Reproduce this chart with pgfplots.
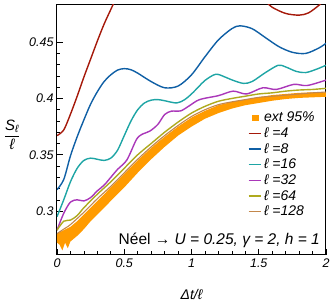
\documentclass[border=0pt]{standalone}
\usepackage{amsmath}
\usepackage{fontspec}
\setmainfont{Liberation Sans}
\usepackage{pgfplots}
\pgfplotsset{compat=1.18}
\definecolor{cfour}{RGB}{165,25,10}
\definecolor{ceight}{RGB}{15,95,165}
\definecolor{csixteen}{RGB}{30,165,165}
\definecolor{cthirtytwo}{RGB}{170,55,185}
\definecolor{csixtyfour}{RGB}{175,170,30}
\definecolor{conetwentyeight}{RGB}{195,135,75}
\definecolor{cband}{RGB}{255,155,0}
\begin{document}
\begin{tikzpicture}
\begin{axis}[
  scale only axis,
  width=269pt, height=250pt,
  xmin=0, xmax=2, ymin=0.261, ymax=0.483,
  xtick={0,0.5,1,1.5,2}, xticklabels={0,0.5,1,1.5,2},
  ytick={0.3,0.35,0.4,0.45}, yticklabels={0.3,0.35,0.4,0.45},
  minor x tick num=4, minor y tick num=4,
  tick pos=left, tick align=inside,
  major tick length=6pt, minor tick length=3.5pt,
  every tick/.style={black, line width=0.6pt},
  axis line style={line width=1pt},
  /pgf/number format/assume math mode=true,
  tick label style={font=\fontsize{12.5}{14}\selectfont\itshape},
  xlabel={\itshape Δt/ℓ},
  xlabel style={font=\fontsize{14}{16}\selectfont, at={(axis description cs:0.5,-0.156)}, anchor=center},
  ylabel={$\dfrac{\text{\itshape S}_{\text{\itshape ℓ}}}{\text{\itshape ℓ}}$},
  ylabel style={font=\fontsize{15}{17}\selectfont, rotate=-90, at={(axis description cs:-0.167,0.48)}, anchor=center},
  legend style={draw=none, fill=none, at={(axis description cs:0.705,0.585)}, anchor=north west,
    font=\fontsize{14}{16}\selectfont\itshape, row sep=0.4pt, inner sep=1pt},
  legend cell align=left,
  legend image code/.code={\draw[#1, line width=1.4pt] (0cm,0cm) -- (0.45cm,0cm);},
]
\addlegendimage{legend image code/.code={\fill[cband] (0.13cm,-0.1cm) rectangle (0.33cm,0.1cm);}}
\addlegendentry{ext 95\%}
% ext 95% band: lower bound left to right, then upper bound right to left
\addplot[fill=cband, draw=none, forget plot] coordinates {
(0,0.272)(0.02,0.270)(0.04,0.265)(0.06,0.272)(0.08,0.267)(0.1,0.273)(0.12,0.275)(0.15,0.278)(0.2,0.284)(0.25,0.291)(0.3,0.297)(0.35,0.303)(0.4,0.309)(0.45,0.315)(0.5,0.321)(0.6,0.334)(0.7,0.346)(0.8,0.357)(0.9,0.367)(1.0,0.375)(1.1,0.382)(1.2,0.387)(1.3,0.391)(1.4,0.394)(1.5,0.396)(1.6,0.398)(1.7,0.3995)(1.8,0.4005)(1.9,0.401)(2.0,0.4015)
(2.0,0.4055)(1.9,0.4055)(1.8,0.405)(1.7,0.404)(1.6,0.403)(1.5,0.401)(1.4,0.399)(1.3,0.397)(1.2,0.394)(1.1,0.389)(1.0,0.383)(0.9,0.375)(0.8,0.366)(0.7,0.356)(0.6,0.345)(0.5,0.333)(0.45,0.327)(0.4,0.321)(0.35,0.315)(0.3,0.309)(0.25,0.303)(0.2,0.297)(0.15,0.291)(0.1,0.286)(0.05,0.283)(0,0.280)
} -- cycle;
\addplot[cfour, line width=1.4pt, smooth] coordinates {
(0,0.367)(0.05,0.372)(0.1,0.386)(0.15,0.402)(0.2,0.419)(0.25,0.435)(0.3,0.451)(0.35,0.466)(0.4,0.479)(0.45,0.492)(0.5,0.505)(0.7,0.54)(1.0,0.56)(1.3,0.53)(1.45,0.505)(1.55,0.487)(1.6,0.481)(1.7,0.4755)(1.8,0.474)(1.87,0.476)(1.95,0.483)(2.0,0.489)
};
\addlegendentry{ℓ =4}
\addplot[ceight, line width=1.4pt, smooth] coordinates {
(0,0.319)(0.05,0.328)(0.1,0.349)(0.15,0.366)(0.2,0.381)(0.25,0.395)(0.3,0.406)(0.35,0.415)(0.4,0.421)(0.45,0.4252)(0.5,0.4265)(0.55,0.4255)(0.6,0.4225)(0.7,0.415)(0.8,0.4095)(0.9,0.411)(1.0,0.421)(1.1,0.437)(1.2,0.452)(1.3,0.462)(1.36,0.4645)(1.45,0.462)(1.55,0.454)(1.65,0.446)(1.75,0.441)(1.85,0.440)(1.95,0.445)(2.0,0.449)
};
\addlegendentry{ℓ =8}
\addplot[csixteen, line width=1.4pt, smooth] coordinates {
(0,0.295)(0.05,0.310)(0.1,0.326)(0.15,0.338)(0.2,0.345)(0.25,0.347)(0.3,0.346)(0.35,0.345)(0.4,0.347)(0.45,0.354)(0.5,0.367)(0.55,0.380)(0.6,0.390)(0.65,0.396)(0.7,0.3985)(0.75,0.399)(0.8,0.398)(0.89,0.396)(0.95,0.399)(1.0,0.404)(1.05,0.410)(1.1,0.416)(1.18,0.4215)(1.25,0.419)(1.3,0.4165)(1.385,0.4134)(1.45,0.415)(1.55,0.423)(1.645,0.4295)(1.7,0.428)(1.78,0.424)(1.85,0.423)(1.93,0.426)(2.0,0.4295)
};
\addlegendentry{ℓ =16}
\addplot[cthirtytwo, line width=1.4pt, smooth] coordinates {
(0,0.283)(0.05,0.298)(0.1,0.308)(0.15,0.310)(0.2,0.309)(0.25,0.312)(0.3,0.318)(0.35,0.323)(0.4,0.330)(0.45,0.337)(0.52,0.3455)(0.59,0.3634)(0.63,0.368)(0.69,0.371)(0.75,0.377)(0.8,0.3857)(0.85,0.3887)(0.92,0.389)(0.98,0.3932)(1.06,0.399)(1.2,0.4025)(1.31,0.4065)(1.41,0.404)(1.53,0.4095)(1.63,0.408)(1.76,0.4125)(1.86,0.4115)(2.0,0.4163)
};
\addlegendentry{ℓ =32}
\addplot[csixtyfour, line width=1.4pt, smooth] coordinates {
(0,0.283)(0.05,0.291)(0.1,0.292)(0.15,0.296)(0.2,0.303)(0.3,0.315)(0.4,0.326)(0.5,0.338)(0.6,0.350)(0.7,0.360)(0.8,0.370)(0.9,0.379)(1.0,0.387)(1.1,0.393)(1.2,0.3975)(1.3,0.400)(1.4,0.402)(1.5,0.404)(1.6,0.405)(1.7,0.4065)(1.8,0.4075)(1.9,0.408)(2.0,0.409)
};
\addlegendentry{ℓ =64}
\addplot[conetwentyeight, line width=1.1pt, smooth] coordinates {
(0,0.280)(0.05,0.284)(0.1,0.288)(0.2,0.299)(0.3,0.311)(0.4,0.322)(0.5,0.334)(0.6,0.346)(0.7,0.357)(0.8,0.367)(0.9,0.376)(1.0,0.384)(1.1,0.390)(1.2,0.3945)(1.3,0.397)(1.4,0.399)(1.5,0.401)(1.6,0.402)(1.7,0.403)(1.8,0.404)(1.9,0.405)(2.0,0.4057)
};
\addlegendentry{ℓ =128}
\node[anchor=east, font=\fontsize{15.5}{17}\selectfont, inner sep=0pt] at (axis description cs:0.978,0.06) {Néel → \itshape U = 0.25, γ = 2, h = 1};
\end{axis}
\pgfresetboundingbox
\path ([shift={(-57pt,-52pt)}]current axis.south west) rectangle ([shift={(6pt,5pt)}]current axis.north east);
\end{tikzpicture}
\end{document}
